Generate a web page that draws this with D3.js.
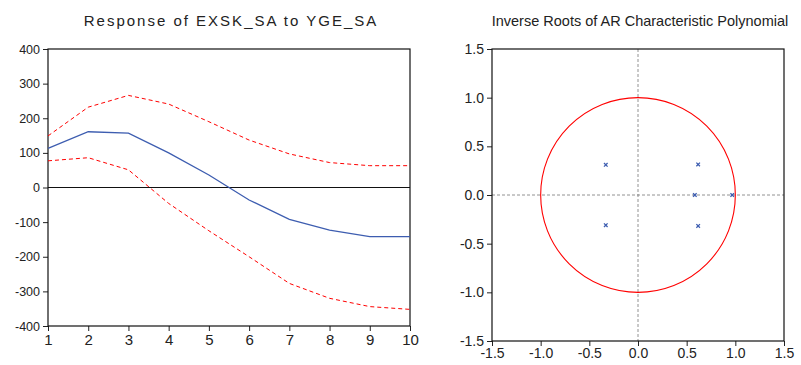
<!DOCTYPE html>
<html>
<head>
<meta charset="utf-8">
<script src="https://cdn.jsdelivr.net/npm/d3@7"></script>
<style>
  body { margin: 0; background: #fff; }
  svg { display: block; font-family: "Liberation Sans", Arial, sans-serif; }
</style>
</head>
<body>
<div id="chart"></div>
<script>
// Impulse response data (periods 1..10)
const periods = [1, 2, 3, 4, 5, 6, 7, 8, 9, 10];
const response = [113, 161, 157, 100, 36, -36, -92, -123, -142, -142];
const upperBand = [149, 232, 266, 241, 190, 137, 97, 72, 63, 63];
const lowerBand = [77, 86, 51, -46, -125, -200, -277, -320, -344, -352];
const irfTicks = [-400, -300, -200, -100, 0, 100, 200, 300, 400];

// Inverse AR roots (real, imaginary)
const rootRe = [-0.331, -0.331, 0.618, 0.618, 0.584, 0.968];
const rootIm = [0.31, -0.31, 0.314, -0.318, 0, 0];
const rootTicks = [-1.5, -1.0, -0.5, 0.0, 0.5, 1.0, 1.5];

// plain hyphen minus, like the original
const fmtInt = d => String(d3.format("d")(d)).replace("\u2212", "-");
const fmtDec = d => String(d3.format(".1f")(d)).replace("\u2212", "-");

const svg = d3.select("#chart").append("svg")
    .attr("width", 801)
    .attr("height", 365);

// ----------------------------
// Left: impulse response
// ----------------------------
const left = {x0: 48, x1: 410, y0: 49, y1: 326};

const xIrf = d3.scaleLinear().domain([1, 10]).range([left.x0, left.x1]);
const yIrf = d3.scaleLinear().domain([-400, 400]).range([left.y1, left.y0]);

svg.append("text")
    .attr("x", 231)
    .attr("y", 26)
    .attr("text-anchor", "middle")
    .attr("font-size", 15)
    .attr("letter-spacing", 2)
    .attr("fill", "#222")
    .text("Response of EXSK_SA to YGE_SA");

const yAxisL = svg.append("g")
    .attr("transform", `translate(${left.x0},0)`)
    .call(d3.axisLeft(yIrf).tickValues(irfTicks).tickSize(5).tickPadding(3).tickFormat(fmtInt));
yAxisL.selectAll("text").attr("font-size", 12.5).attr("fill", "#222");

const xAxisL = svg.append("g")
    .attr("transform", `translate(0,${left.y1})`)
    .call(d3.axisBottom(xIrf).tickValues(periods).tickSize(5).tickPadding(3).tickFormat(fmtInt));
xAxisL.selectAll("text").attr("font-size", 15).attr("fill", "#222");

[yAxisL, xAxisL].forEach(a => {
    a.select(".domain").remove();
    a.selectAll("line").attr("stroke", "#222");
});

svg.append("rect")
    .attr("x", left.x0).attr("y", left.y0)
    .attr("width", left.x1 - left.x0).attr("height", left.y1 - left.y0)
    .attr("fill", "none").attr("stroke", "#111").attr("stroke-width", 1.2);

// zero line
svg.append("line")
    .attr("x1", left.x0).attr("x2", left.x1)
    .attr("y1", yIrf(0)).attr("y2", yIrf(0))
    .attr("stroke", "#111").attr("stroke-width", 1.1);

const lineIrf = vals => d3.line()
    .x((d, i) => xIrf(periods[i]))
    .y(d => yIrf(d))(vals);

svg.append("path")
    .attr("d", lineIrf(upperBand))
    .attr("fill", "none").attr("stroke", "#f00").attr("stroke-width", 1)
    .attr("stroke-dasharray", "4,3");

svg.append("path")
    .attr("d", lineIrf(lowerBand))
    .attr("fill", "none").attr("stroke", "#f00").attr("stroke-width", 1)
    .attr("stroke-dasharray", "4,3");

svg.append("path")
    .attr("d", lineIrf(response))
    .attr("fill", "none").attr("stroke", "#3d5db0").attr("stroke-width", 1.3);

// ----------------------------
// Right: inverse roots
// ----------------------------
const right = {x0: 492, x1: 784, y0: 49, y1: 341};

const xRoot = d3.scaleLinear().domain([-1.5, 1.5]).range([right.x0, right.x1]);
const yRoot = d3.scaleLinear().domain([-1.5, 1.5]).range([right.y1, right.y0]);

svg.append("text")
    .attr("x", 640)
    .attr("y", 26)
    .attr("text-anchor", "middle")
    .attr("font-size", 14.5)
    .attr("fill", "#222")
    .text("Inverse Roots of AR Characteristic Polynomial");

// dashed zero axes
svg.append("line")
    .attr("x1", xRoot(0)).attr("x2", xRoot(0))
    .attr("y1", right.y0).attr("y2", right.y1)
    .attr("stroke", "#777").attr("stroke-width", 0.8).attr("stroke-dasharray", "3,2");
svg.append("line")
    .attr("x1", right.x0).attr("x2", right.x1)
    .attr("y1", yRoot(0)).attr("y2", yRoot(0))
    .attr("stroke", "#777").attr("stroke-width", 0.8).attr("stroke-dasharray", "3,2");

// unit circle
svg.append("ellipse")
    .attr("cx", xRoot(0)).attr("cy", yRoot(0))
    .attr("rx", xRoot(1) - xRoot(0)).attr("ry", yRoot(0) - yRoot(1))
    .attr("fill", "none").attr("stroke", "#f00").attr("stroke-width", 1.1);

const yAxisR = svg.append("g")
    .attr("transform", `translate(${right.x0},0)`)
    .call(d3.axisLeft(yRoot).tickValues(rootTicks).tickSize(5).tickPadding(3).tickFormat(fmtDec));
const xAxisR = svg.append("g")
    .attr("transform", `translate(0,${right.y1})`)
    .call(d3.axisBottom(xRoot).tickValues(rootTicks).tickSize(5).tickPadding(2).tickFormat(fmtDec));
[yAxisR, xAxisR].forEach(a => {
    a.select(".domain").remove();
    a.selectAll("line").attr("stroke", "#222");
    a.selectAll("text").attr("font-size", 14).attr("fill", "#222");
});

svg.append("rect")
    .attr("x", right.x0).attr("y", right.y0)
    .attr("width", right.x1 - right.x0).attr("height", right.y1 - right.y0)
    .attr("fill", "none").attr("stroke", "#111").attr("stroke-width", 1.2);

// root markers (small x)
svg.append("g")
    .selectAll("path")
    .data(rootRe.map((r, i) => [r, rootIm[i]]))
    .enter()
    .append("path")
    .attr("d", d => {
        const cx = xRoot(d[0]), cy = yRoot(d[1]), s = 1.8;
        return `M${cx - s},${cy - s}L${cx + s},${cy + s}M${cx - s},${cy + s}L${cx + s},${cy - s}`;
    })
    .attr("stroke", "#3d5db0")
    .attr("stroke-width", 1.3);
</script>
</body>
</html>
